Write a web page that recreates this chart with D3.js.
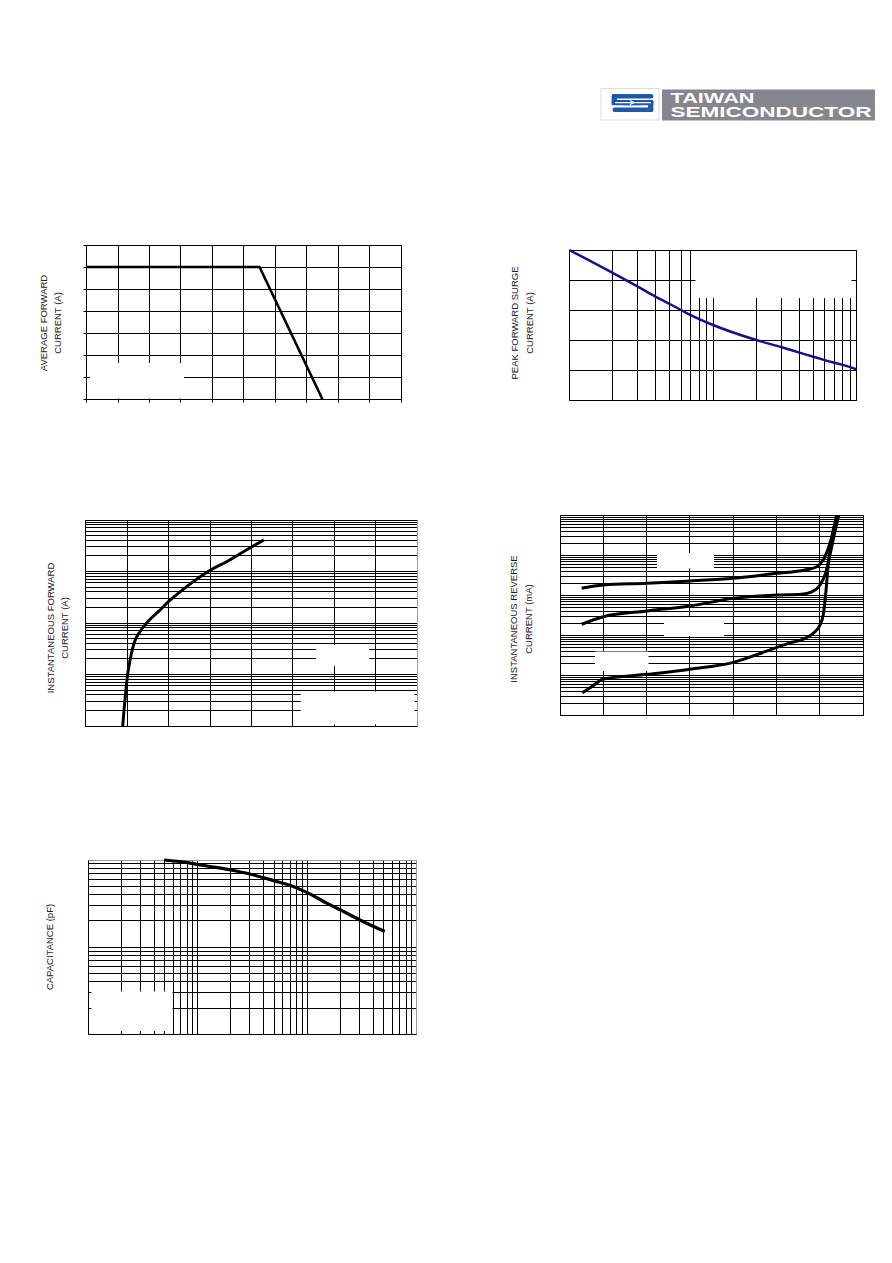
<!DOCTYPE html>
<html><head><meta charset="utf-8">
<script src="https://cdn.jsdelivr.net/npm/d3@7"></script>
<style>
body{margin:0;background:#fff;}
svg{display:block;}
text{font-family:"Liberation Sans",Arial,sans-serif;}
</style>
</head><body>
<svg id="page" width="892" height="1263"></svg>
<script>
// ---------- DATA ----------
// Chart 1: average forward current derating
const c1Temp = [0, 110, 150];
const c1Current = [3.0, 3.0, 0];
const c1TicksX = [0, 20, 40, 60, 80, 100, 120, 140, 160, 180, 200];
const c1TicksY = [0, 0.5, 1.0, 1.5, 2.0, 2.5, 3.0, 3.5];
const c1Title = ["AVERAGE FORWARD", "CURRENT (A)"];

// Chart 2: peak forward surge current
const c2Cycles = [1, 2, 3, 4, 5, 6, 7, 10, 20, 30, 40, 50, 60, 80, 100];
const c2Surge = [50, 42.4, 37.8, 34.4, 32, 30, 28.3, 25, 20, 17.6, 15.8, 14.4, 13.3, 11.7, 10.2];
const c2TicksX = [1, 2, 3, 4, 5, 6, 7, 8, 9, 10, 20, 30, 40, 50, 60, 70, 80, 90, 100];
const c2TicksY = [0, 10, 20, 30, 40, 50];
const c2Title = ["PEAK FORWARD SURGE", "CURRENT (A)"];

// Chart 3: instantaneous forward characteristics
const c3Vf = [0.1785, 0.185, 0.191, 0.201, 0.214, 0.233, 0.262, 0.307, 0.359, 0.399, 0.487, 0.603, 0.68, 0.802, 0.86];
const c3If = [0.01, 0.0205, 0.0371, 0.0907, 0.191, 0.403, 0.679, 1.14, 1.79, 2.59, 5.08, 10.7, 15.5, 30.3, 40.9];
const c3TicksX = [0, 0.2, 0.4, 0.6, 0.8, 1.0, 1.2, 1.4, 1.6];
const c3DecadesY = [0.01, 0.1, 1, 10, 100];
const c3Title = ["INSTANTANEOUS FORWARD", "CURRENT (A)"];

// Chart 4: reverse characteristics (three temperatures)
const c4PctA = [10, 20, 40.3, 60, 80, 100, 113, 118.5, 121.5, 123.8, 126.2, 128.5];
const c4IrA = [1.53, 1.85, 2.04, 2.33, 2.72, 3.62, 4.38, 5.31, 7.79, 15.2, 39.8, 100];
const c4PctB = [10, 20, 40.3, 60, 80, 100, 111.5, 116.2, 120, 122.3, 124.6, 126.9, 128.6];
const c4IrB = [0.193, 0.299, 0.415, 0.553, 0.861, 1.04, 1.09, 1.24, 1.85, 3.3, 10.5, 39.8, 100];
const c4PctC = [10.3, 14.6, 20, 40.3, 60, 80, 94.6, 105.4, 113.1, 117.7, 120, 121.5, 122.6, 123.8, 125.4, 127.7];
const c4IrC = [0.00376, 0.0053, 0.00826, 0.0108, 0.0145, 0.0215, 0.0398, 0.0643, 0.0858, 0.126, 0.185, 0.328, 1.04, 5.84, 27.1, 100];
const c4TicksX = [0, 20, 40, 60, 80, 100, 120, 140];
const c4DecadesY = [0.001, 0.01, 0.1, 1, 10, 100];
const c4Title = ["INSTANTANEOUS REVERSE", "CURRENT (mA)"];

// Chart 5: junction capacitance
const c5Vr = [4.93, 6.92, 12.1, 19.9, 29.8, 49.5, 75.5, 100, 152, 202, 303, 511];
const c5Cap = [1000, 957, 853, 768, 691, 579, 494, 422, 318, 267, 205, 151];
const c5DecadesX = [1, 10, 100, 1000];
const c5DecadesY = [10, 100, 1000];
const c5Title = ["CAPACITANCE (pF)"];

const logMultiples = [1, 2, 3, 4, 5, 6, 7, 8, 9];

// ---------- HELPERS ----------
const svg = d3.select("#page");
const crisp = v => Math.round(v - 0.5) + 0.5;
function logGrid(decades) {
  const out = [];
  decades.forEach((d, i) => {
    if (i === decades.length - 1) { out.push(d); return; }
    logMultiples.forEach(m => out.push(+(d * m).toPrecision(6)));
  });
  return out;
}

function drawChart(cfg) {
  const g = svg.append("g");
  const x = cfg.x, y = cfg.y;
  const [xa, xb] = x.range(), [ya, yb] = y.range();
  const L = crisp(Math.min(xa, xb)), R = crisp(Math.max(xa, xb));
  const B = crisp(Math.max(ya, yb)), T = crisp(Math.min(ya, yb));
  const out = cfg.tickOut || 0;
  cfg.gridX.forEach(v => {
    const px = crisp(x(v));
    g.append("line").attr("x1", px).attr("x2", px).attr("y1", T).attr("y2", B + out)
      .attr("stroke", "#000").attr("stroke-width", 1);
  });
  cfg.gridY.forEach(v => {
    const py = crisp(y(v));
    g.append("line").attr("x1", L - out).attr("x2", R).attr("y1", py).attr("y2", py)
      .attr("stroke", "#000").attr("stroke-width", 1);
  });
  const bc = cfg.borderColors || {};
  g.append("line").attr("x1", L).attr("x2", R).attr("y1", T).attr("y2", T).attr("stroke", bc.top || "#000");
  g.append("line").attr("x1", R).attr("x2", R).attr("y1", T).attr("y2", B).attr("stroke", bc.right || "#000");
  g.append("line").attr("x1", L).attr("x2", R).attr("y1", B).attr("y2", B).attr("stroke", "#000");
  g.append("line").attr("x1", L).attr("x2", L).attr("y1", T).attr("y2", B).attr("stroke", "#000");
  (cfg.masks || []).forEach(m => {
    g.append("rect").attr("x", m[0]).attr("y", m[1]).attr("width", m[2] - m[0]).attr("height", m[3] - m[1])
      .attr("fill", "#fff");
  });
  cfg.series.forEach(s => {
    const pts = s.xs.map((v, i) => [v, s.ys[i]]);
    const line = d3.line().x(d => x(d[0])).y(d => y(d[1])).curve(s.curve || d3.curveMonotoneX);
    g.append("path").attr("d", line(pts)).attr("fill", "none")
      .attr("stroke", s.color || "#000").attr("stroke-width", s.width || 3)
      .attr("stroke-linejoin", "round");
  });
  cfg.title.forEach((t, i) => {
    const bx = cfg.titleX[i];
    g.append("text").attr("transform", `translate(${bx},${cfg.titleY}) rotate(-90)`)
      .attr("text-anchor", "middle").attr("font-size", 9.5).attr("fill", "#222").text(t);
  });
}

// ---------- LOGO ----------
(function logo() {
  const g = svg.append("g");
  g.append("rect").attr("x", 601).attr("y", 88.5).attr("width", 58).attr("height", 31.5)
    .attr("fill", "#fff").attr("stroke", "#ddd").attr("stroke-width", 1);
  const blue = "#1e5aa8";
  g.append("rect").attr("x", 611.7).attr("y", 94).attr("width", 41.6).attr("height", 4.6).attr("rx", 2).attr("fill", blue);
  g.append("rect").attr("x", 611.7).attr("y", 94).attr("width", 5.2).attr("height", 11).attr("rx", 2).attr("fill", blue);
  g.append("rect").attr("x", 611.7).attr("y", 100).attr("width", 30).attr("height", 5.2).attr("fill", blue);
  g.append("rect").attr("x", 623).attr("y", 100).attr("width", 30.3).attr("height", 5.2).attr("fill", blue);
  g.append("rect").attr("x", 648.1).attr("y", 100).attr("width", 5.2).attr("height", 12).attr("rx", 2).attr("fill", blue);
  g.append("rect").attr("x", 612.5).attr("y", 107.4).attr("width", 40.8).attr("height", 4.6).attr("rx", 2).attr("fill", blue);
  g.append("line").attr("x1", 615).attr("x2", 651).attr("y1", 102.6).attr("y2", 102.6).attr("stroke", "#fff").attr("stroke-width", 1.2);
  g.append("path").attr("d", "M630,100.6 L634,102.6 L630,104.6").attr("fill", "none").attr("stroke", "#fff").attr("stroke-width", 1.1);
  g.append("rect").attr("x", 662).attr("y", 89.5).attr("width", 213).attr("height", 31).attr("fill", "#86868f");
  g.append("text").attr("x", 670.5).attr("y", 103).attr("font-size", 14).attr("font-weight", "bold")
    .attr("fill", "#fff").attr("textLength", 84).attr("lengthAdjust", "spacingAndGlyphs").text("TAIWAN");
  g.append("text").attr("x", 670.5).attr("y", 117).attr("font-size", 14).attr("font-weight", "bold")
    .attr("fill", "#fff").attr("textLength", 201).attr("lengthAdjust", "spacingAndGlyphs").text("SEMICONDUCTOR");
})();

// ---------- CHARTS ----------
drawChart({
  x: d3.scaleLinear().domain([0, 200]).range([86.7, 401]),
  y: d3.scaleLinear().domain([0, 3.5]).range([399.3, 245]),
  gridX: c1TicksX, gridY: c1TicksY, tickOut: 3,
  masks: [[90, 363, 184, 398.5]],
  series: [{xs: c1Temp, ys: c1Current, color: "#000", width: 2.6, curve: d3.curveLinear}],
  title: c1Title, titleX: [46.5, 60.5], titleY: 323
});

drawChart({
  x: d3.scaleLog().domain([1, 100]).range([569.3, 856.7]),
  y: d3.scaleLinear().domain([0, 50]).range([400, 250]),
  gridX: c2TicksX, gridY: c2TicksY,
  masks: [[695.5, 251, 851.5, 298]],
  series: [{xs: c2Cycles, ys: c2Surge, color: "#12128c", width: 2.5}],
  title: c2Title, titleX: [517.5, 532.5], titleY: 323
});

drawChart({
  x: d3.scaleLinear().domain([0, 1.6]).range([85.7, 417.3]),
  y: d3.scaleLog().domain([0.01, 100]).range([726, 520]),
  gridX: c3TicksX, gridY: logGrid(c3DecadesY),
  borderColors: {right: "#999"},
  masks: [[316, 645, 369.3, 666], [300.7, 691.5, 414.5, 724.5]],
  series: [{xs: c3Vf, ys: c3If, color: "#000", width: 3}],
  title: c3Title, titleX: [53.5, 67.5], titleY: 628
});

drawChart({
  x: d3.scaleLinear().domain([0, 140]).range([560, 863.3]),
  y: d3.scaleLog().domain([0.001, 100]).range([715.7, 515.7]),
  gridX: c4TicksX, gridY: logGrid(c4DecadesY),
  masks: [[657, 553, 714, 568.5], [664, 617, 724, 636], [595, 651.5, 648.5, 671]],
  series: [
    {xs: c4PctA, ys: c4IrA, color: "#000", width: 3},
    {xs: c4PctB, ys: c4IrB, color: "#000", width: 3},
    {xs: c4PctC, ys: c4IrC, color: "#000", width: 3}
  ],
  title: c4Title, titleX: [516.5, 531.5], titleY: 619
});

drawChart({
  x: d3.scaleLog().domain([1, 1000]).range([88.3, 416.7]),
  y: d3.scaleLog().domain([10, 1000]).range([1034.3, 860]),
  gridX: logGrid(c5DecadesX), gridY: logGrid(c5DecadesY),
  borderColors: {right: "#999", top: "#999"},
  masks: [[91.5, 991.5, 172.5, 1031]],
  series: [{xs: c5Vr, ys: c5Cap, color: "#000", width: 3.2}],
  title: c5Title, titleX: [52.5], titleY: 947
});
</script>
</body></html>
